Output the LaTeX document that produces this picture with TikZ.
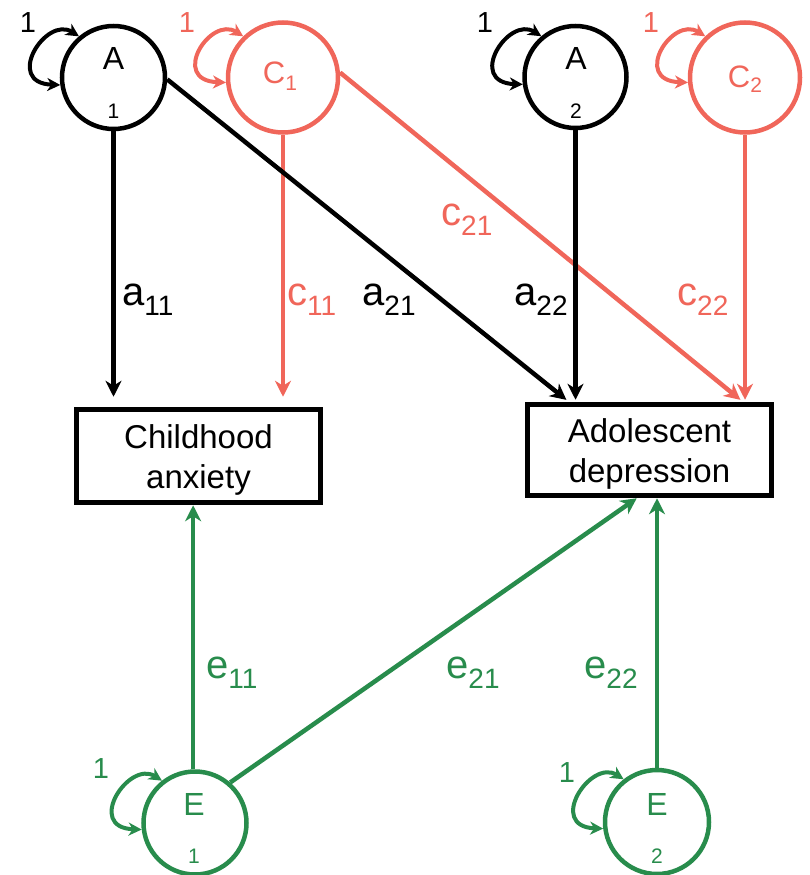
\documentclass[tikz,border=0pt]{standalone}
\usepackage{fontspec}
\setmainfont{Liberation Sans}
\usetikzlibrary{arrows.meta}
\definecolor{redc}{RGB}{240,102,90}
\definecolor{greenc}{RGB}{40,140,76}
% path coefficient: letter with a lowered two-digit index
\newcommand\coef[2]{{\fontsize{40}{40}\selectfont #1}\raisebox{-10pt}{\fontsize{28}{28}\selectfont #2}}

\begin{document}
\begin{tikzpicture}[x=1pt,y=-1pt,
  latent/.style={circle, draw, line width=4.5pt, inner sep=0pt, minimum size=#1},
  observed/.style={rectangle, draw, line width=5.5pt, inner sep=0pt, minimum width=244pt},
  obstext/.style={align=center, inner sep=0pt, font=\fontsize{33}{40}\selectfont},
  arr/.style={line width=4.5pt, -{Stealth[length=16pt,width=16pt,inset=5pt]}},
  varloop/.style={line width=4pt,
    {Stealth[length=13pt,width=13pt,inset=4pt]}-{Stealth[length=13pt,width=13pt,inset=4pt]}},
  big/.style={anchor=base, inner sep=0pt, font=\fontsize{32}{32}\selectfont},
  small/.style={anchor=base, inner sep=0pt, font=\fontsize{21}{21}\selectfont},
  one/.style={anchor=base, inner sep=0pt, font=\fontsize{29}{29}\selectfont},
  coefl/.style={anchor=base west, inner sep=0pt},
]
\useasboundingbox (0,0) rectangle (809,875);

% latent factors
\node[latent=103pt] (A1) at (113.5,77.5) {};
\node[latent=110pt, redc] (C1) at (283,77.5) {};
\node[latent=102pt] (A2) at (575.5,77) {};
\node[latent=110pt, redc] (C2) at (745,77.5) {};
\node[latent=103pt, greenc] (E1) at (195,823) {};
\node[latent=104pt, greenc] (E2) at (657,822) {};

% factor names
\node[big] (A1t) at (113.5,70) {A};
\node[small] (A1s) at (113.5,118) {1};
\node[big] (A2t) at (576,70) {A};
\node[small] (A2s) at (576,118) {2};
\node[anchor=base, inner sep=0pt, text=redc] (C1t) at (280,83)
  {\fontsize{31}{31}\selectfont C\raisebox{-7pt}{\fontsize{21}{21}\selectfont 1}};
\node[anchor=base, inner sep=0pt, text=redc] (C2t) at (745,88)
  {\fontsize{31}{31}\selectfont C\raisebox{-5pt}{\fontsize{21}{21}\selectfont 2}};
\node[big, text=greenc] (E1t) at (194,815) {E};
\node[small, text=greenc] (E1s) at (194,863) {1};
\node[big, text=greenc] (E2t) at (657,815) {E};
\node[small, text=greenc] (E2s) at (657,863) {2};

% observed variables
\node[observed, minimum height=93pt] (CA) at (198.5,456) {};
\node[obstext] (CAt) at (198.5,460) {Childhood\\anxiety};
\node[observed, minimum height=91pt] (AD) at (649.5,450) {};
\node[obstext] (ADt) at (649.5,454) {Adolescent\\depression};

% variance loops
\draw[varloop] (A1.130) .. controls +(-33,-21) and +(-57,-2) .. (A1.188);
\node[one] (A1v) at (28,33) {1};
\draw[varloop, redc] (C1.134) .. controls +(-33,-21) and +(-57,-2) .. (C1.185);
\node[one, text=redc] (C1v) at (187,33) {1};
\draw[varloop] (A2.130) .. controls +(-33,-21) and +(-57,-2) .. (A2.188);
\node[one] (A2v) at (485,33) {1};
\draw[varloop, redc] (C2.134) .. controls +(-33,-21) and +(-57,-2) .. (C2.185);
\node[one, text=redc] (C2v) at (651,33) {1};
\draw[varloop, greenc] (E1.128) .. controls +(-33,-21) and +(-57,-2) .. (E1.187);
\node[one, text=greenc] (E1v) at (101,778) {1};
\draw[varloop, greenc] (E2.128) .. controls +(-33,-21) and +(-57,-2) .. (E2.187);
\node[one, text=greenc] (E2v) at (567,782) {1};

% paths to childhood anxiety
\draw[arr, shorten >=10pt] (A1.south) -- (A1.south |- CA.north);
\draw[arr, redc, shorten >=10pt] (C1.south) -- (C1.south |- CA.north);
\draw[arr, greenc] (E1.92) -- (E1.92 |- CA.south);

% paths to adolescent depression
\draw[arr, shorten >=3pt] (A1.-2) -- ([xshift=44pt]AD.north west);
\draw[arr, redc, shorten >=3pt] (C1.5) -- ([xshift=218pt]AD.north west);
\draw[arr, shorten >=2pt] (A2.south) -- (A2.south |- AD.north);
\draw[arr, redc, shorten >=2pt] (C2.south) -- (C2.south |- AD.north);
\draw[arr, greenc] (E1.49) -- ([xshift=112pt]AD.south west);
\draw[arr, greenc] (E2.north) -- (E2.north |- AD.south);

% coefficients
\node[coefl] (a11) at (122,305) {\coef{a}{11}};
\node[coefl, text=redc] (c11) at (287,305) {\coef{c}{11}};
\node[coefl] (a21) at (362,305) {\coef{a}{21}};
\node[coefl] (a22) at (514,305) {\coef{a}{22}};
\node[coefl, text=redc] (c22) at (677,305) {\coef{c}{22}};
\node[coefl, text=redc] (c21) at (441,225) {\coef{c}{21}};
\node[coefl, text=greenc] (e11) at (206,678) {\coef{e}{11}};
\node[coefl, text=greenc] (e21) at (446,678) {\coef{e}{21}};
\node[coefl, text=greenc] (e22) at (584,678) {\coef{e}{22}};
\end{tikzpicture}
\end{document}
